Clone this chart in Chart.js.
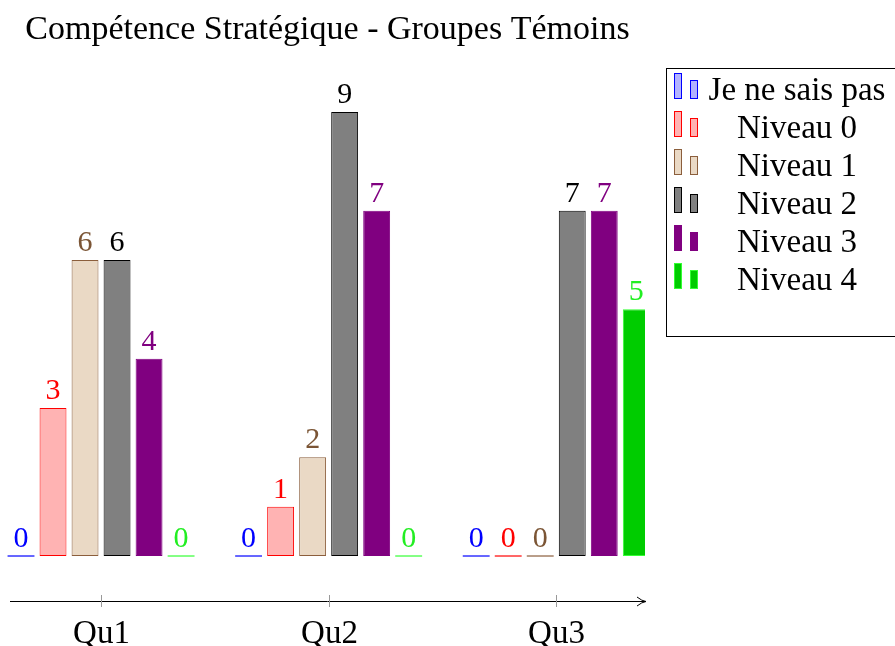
<!DOCTYPE html>
<html>
<head>
<meta charset="utf-8">
<script src="https://cdn.jsdelivr.net/npm/chart.js@4/dist/chart.umd.min.js"></script>
<style>
  html, body { margin: 0; padding: 0; background: #fff; }
  #wrap { width: 895px; height: 646px; }
</style>
</head>
<body>
<div id="wrap"><canvas id="chart" width="895" height="646"></canvas></div>
<script>
// Data
const categories = ['Qu1', 'Qu2', 'Qu3'];
const seriesNames = ['Je ne sais pas', 'Niveau 0', 'Niveau 1', 'Niveau 2', 'Niveau 3', 'Niveau 4'];
const jeNeSaisPas = [0, 0, 0];
const niveau0 = [3, 1, 0];
const niveau1 = [6, 2, 0];
const niveau2 = [6, 9, 7];
const niveau3 = [4, 7, 7];
const niveau4 = [0, 0, 5];

// Styles
const fills = ['#b3b3ff', '#ffb3b3', '#ead9c5', '#808080', '#800080', '#00cc00'];
const borders = ['#0000ff', '#ff0000', '#8b5e3c', '#000000', '#800080', '#33ff33'];
const labelColors = ['#0000ff', '#ff0000', '#7b5535', '#000000', '#800080', '#22ee22'];
const FONT = "'Liberation Serif', 'DejaVu Serif', serif";

const series = [jeNeSaisPas, niveau0, niveau1, niveau2, niveau3, niveau4];

const datasets = series.map((values, s) => ({
    label: seriesNames[s],
    data: values.map((v, i) => ({ x: i, y: v })),
    backgroundColor: fills[s],
    borderColor: borders[s],
    borderWidth: 1,
    borderSkipped: false,
    categoryPercentage: 0.844,
    barPercentage: 0.84
}));

// Value labels above bars, and a flat line for zero bars
const valueLabels = {
    id: 'valueLabels',
    afterDatasetsDraw(chart) {
        const ctx = chart.ctx;
        ctx.save();
        chart.data.datasets.forEach((ds, s) => {
            const meta = chart.getDatasetMeta(s);
            meta.data.forEach((bar, i) => {
                const v = ds.data[i].y;
                if (v === 0) {
                    ctx.strokeStyle = borders[s];
                    ctx.lineWidth = 1.2;
                    ctx.beginPath();
                    ctx.moveTo(bar.x - bar.width / 2, bar.base);
                    ctx.lineTo(bar.x + bar.width / 2, bar.base);
                    ctx.stroke();
                }
                ctx.fillStyle = labelColors[s];
                ctx.font = '30px ' + FONT;
                ctx.textAlign = 'center';
                ctx.textBaseline = 'alphabetic';
                ctx.fillText(String(v), bar.x, bar.y - 9);
            });
        });
        ctx.restore();
    }
};

// x axis line with arrow, small ticks and category labels
const axisLine = {
    id: 'axisLine',
    afterDraw(chart) {
        const ctx = chart.ctx;
        const a = chart.chartArea;
        const xs = chart.scales.x;
        const y = a.bottom;
        ctx.save();
        ctx.strokeStyle = '#000';
        ctx.lineWidth = 1;
        ctx.beginPath();
        ctx.moveTo(a.left, y + 0.5);
        ctx.lineTo(a.right, y + 0.5);
        ctx.stroke();
        // arrow head
        ctx.beginPath();
        ctx.moveTo(a.right - 8, y - 4);
        ctx.quadraticCurveTo(a.right - 3, y, a.right + 1, y + 0.5);
        ctx.quadraticCurveTo(a.right - 3, y + 1, a.right - 8, y + 5);
        ctx.stroke();
        categories.forEach((c, i) => {
            const px = Math.round(xs.getPixelForValue(i)) + 0.5;
            ctx.strokeStyle = '#999';
            ctx.beginPath();
            ctx.moveTo(px, y - 6);
            ctx.lineTo(px, y + 6);
            ctx.stroke();
            ctx.fillStyle = '#000';
            ctx.font = '33px ' + FONT;
            ctx.textAlign = 'center';
            ctx.textBaseline = 'alphabetic';
            ctx.fillText(c, px, y + 42);
        });
        ctx.restore();
    }
};

// Legend box with two small bar icons per entry
const barLegend = {
    id: 'barLegend',
    afterDraw(chart) {
        const ctx = chart.ctx;
        ctx.save();
        ctx.fillStyle = '#fff';
        ctx.strokeStyle = '#000';
        ctx.lineWidth = 1;
        ctx.fillRect(666, 68, 240, 268);
        ctx.strokeRect(666.5, 68.5, 240, 268);
        chart.data.datasets.forEach((ds, s) => {
            const top = 73 + 38 * s;
            ctx.fillStyle = fills[s];
            ctx.strokeStyle = borders[s];
            ctx.fillRect(674, top, 8, 26);
            ctx.strokeRect(674.5, top + 0.5, 7, 25);
            ctx.fillRect(690, top + 7, 8, 19);
            ctx.strokeRect(690.5, top + 7.5, 7, 18);
            ctx.fillStyle = '#000';
            ctx.font = '33px ' + FONT;
            ctx.textAlign = 'center';
            ctx.textBaseline = 'alphabetic';
            ctx.fillText(ds.label, 797, top + 27);
        });
        ctx.restore();
    }
};

new Chart(document.getElementById('chart'), {
    type: 'bar',
    data: { datasets },
    options: {
        responsive: false,
        animation: false,
        layout: { padding: { left: 10, right: 250, top: 0, bottom: 37 } },
        plugins: {
            legend: { display: false },
            tooltip: { enabled: false },
            title: {
                display: true,
                text: 'Compétence Stratégique - Groupes Témoins',
                fullSize: false,
                color: '#000',
                font: { family: FONT, size: 34, weight: 'normal', lineHeight: 1.2 },
                padding: { top: 10, bottom: 31.6 }
            }
        },
        scales: {
            x: {
                type: 'linear',
                offset: false,
                min: -0.4,
                max: 2.39,
                afterBuildTicks(scale) {
                    scale.ticks = categories.map((c, i) => ({ value: i }));
                },
                ticks: { display: false },
                grid: { display: false, offset: false },
                border: { display: false }
            },
            y: {
                display: false,
                min: -0.912,
                max: 9.6
            }
        }
    },
    plugins: [valueLabels, axisLine, barLegend]
});
</script>
</body>
</html>
